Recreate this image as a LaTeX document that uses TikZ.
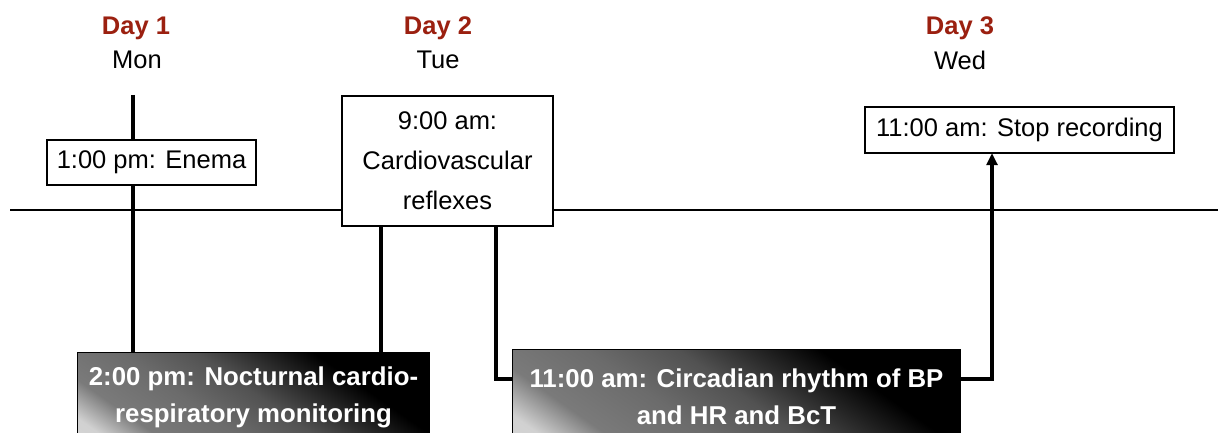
\documentclass[tikz,border=0pt]{standalone}
\usepackage{fontspec}
\setmainfont{Liberation Sans}
\usetikzlibrary{arrows.meta}
\definecolor{dayred}{RGB}{155,32,16}
\pgfdeclareverticalshading{darkgrad}{100bp}{color(0bp)=(black!12); color(20bp)=(black!18); color(28bp)=(black!52); color(40bp)=(black!58); color(51bp)=(black!68); color(60bp)=(black!85); color(68bp)=(black); color(100bp)=(black)}
\tikzset{
  thickline/.style={line width=3.2pt},
  thinline/.style={line width=2pt},
  whitebox/.style={draw=black, line width=1.2pt, fill=white, inner sep=0pt, align=center,
     font=\fontsize{25.5}{40}\selectfont},
  darkbox/.style={draw=black, line width=1pt, inner sep=0pt, align=center,
     shading=darkgrad, shading angle=-35,
     text=white, font=\bfseries\fontsize{25.8}{37}\selectfont},
  daylbl/.style={font=\bfseries\fontsize{25.5}{30}\selectfont, text=dayred, inner sep=0pt},
  wdlbl/.style={font=\fontsize{25.5}{30}\selectfont, inner sep=0pt},
}
\begin{document}
\begin{tikzpicture}[x=1pt,y=1pt]
\useasboundingbox (0,0) rectangle (1218,432);
\clip (0,0) rectangle (1218,432);
% day labels
\node[daylbl] (d1) at (136,404) {Day 1};
\node[wdlbl] (w1) at (137,372) {Mon};
\node[daylbl] (d2) at (438,404) {Day 2};
\node[wdlbl] (w2) at (438,372) {Tue};
\node[daylbl] (d3) at (960,404) {Day 3};
\node[wdlbl] (w3) at (960,372) {Wed};
% timeline
\coordinate (tlA) at (10,222);
\coordinate (tlB) at (1218,222);
\draw[thinline] (tlA) -- (tlB);
% connector anchors
\coordinate (c1) at (133,337);
\coordinate (c2) at (381,0);
\coordinate (c3) at (496,0);
\coordinate (bend) at (0,53);
\coordinate (c4) at (992,0);
% boxes geometry (invisible, for connectors)
\path (151.5,269.5) node[minimum width=209pt, minimum height=45pt, inner sep=0pt] (enemaG) {};
\path (447.5,271) node[minimum width=211pt, minimum height=130pt, inner sep=0pt] (cardioG) {};
\path (1019.5,302) node[minimum width=309pt, minimum height=46pt, inner sep=0pt] (stopG) {};
\path (77,80) node[minimum width=352pt, minimum height=89pt, inner sep=0pt, anchor=north west] (noctG) {};
\path (512,83) node[minimum width=448pt, minimum height=94pt, inner sep=0pt, anchor=north west] (circG) {};
% connectors
\draw[thickline] (c1) -- (c1 |- noctG.north);
\draw[thickline] (cardioG.south -| c2) -- (noctG.north -| c2);
\draw[thickline] (cardioG.south -| c3) |- (circG.west |- bend);
\draw[thickline, -{Triangle[width=11pt,length=12pt]}] (circG.east |- bend) -| (stopG.south -| c4);
% boxes
\node[whitebox, minimum width=209pt, minimum height=45pt] (enema) at (enemaG) {1:00 pm: Enema};
\node[whitebox, minimum width=211pt, minimum height=130pt] (cardio) at (cardioG) {9:00 am:\\Cardiovascular\\reflexes};
\node[whitebox, minimum width=309pt, minimum height=46pt] (stop) at (stopG) {11:00 am: Stop recording};
\node[darkbox, minimum width=352pt, minimum height=89pt, anchor=north west] (noct) at (noctG.north west) {2:00 pm: Nocturnal cardio-\\respiratory monitoring};
\node[darkbox, minimum width=448pt, minimum height=94pt, anchor=north west] (circ) at (circG.north west) {11:00 am: Circadian rhythm of BP\\and HR and BcT};
\end{tikzpicture}
\end{document}
